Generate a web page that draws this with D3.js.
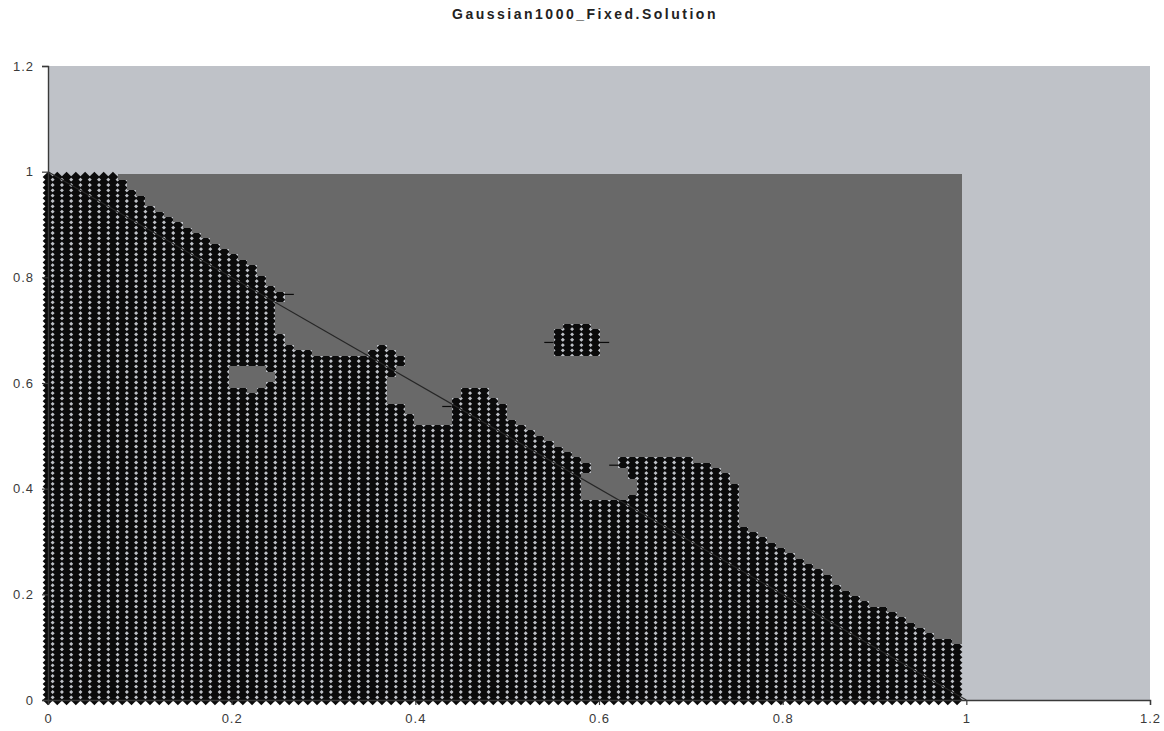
<!DOCTYPE HTML>
<html lang="en">
	<head>
		<title>Gaussian1000_Fixed.Solution</title>
		<style type="text/css">
			body {
				margin: 0;
				background-color: rgb(255, 255, 255);
			}
			text {
				font-family: "Liberation Sans", Arial, sans-serif;
			}
		</style>
		<script src="https://d3js.org/d3.v7.min.js"></script>
	</head>
	<body>
		<div id="display"></div>
		<script>

			// sample grid: 99 x 99 points, step 1/99 on both axes
			var gridCount = 99;
			var xTicks = [0, 0.2, 0.4, 0.6, 0.8, 1, 1.2];
			var yTicks = [0, 0.2, 0.4, 0.6, 0.8, 1, 1.2];

			// highest row (index) of the black class, per column, counted from y = 0
			var colTop = [
				98, 98, 98, 98, 98, 98, 98, 98, 97, 95,
				94, 92, 91, 90, 89, 88, 87, 86, 85, 84,
				83, 82, 81, 79, 77, 68, 66, 65, 65, 64,
				64, 64, 64, 64, 64, 65, 66, 55, 55, 53,
				51, 51, 51, 51, 56, 58, 58, 58, 56, 55,
				52, 51, 50, 49, 48, 47, 46, 45, 37, 37,
				37, 37, 37, 38, 45, 45, 45, 45, 45, 45,
				44, 44, 43, 42, 40, 32, 31, 30, 29, 28,
				27, 26, 25, 24, 23, 21, 20, 19, 18, 17,
				17, 16, 15, 14, 13, 12, 11, 11, 10
			];

			// black cells above a gray gap: [column, fromRow, toRow]
			var extraBlack = [
				[25, 75, 76], [37, 61, 65], [38, 63, 64],
				[58, 43, 44], [62, 44, 45], [63, 42, 45],
				[55, 65, 69], [56, 65, 70], [57, 65, 70], [58, 65, 70], [59, 65, 69]
			];

			// gray cells inside the black area: [column, fromRow, toRow]
			var grayHoles = [
				[20, 59, 62], [21, 59, 62], [22, 58, 62], [23, 59, 62], [24, 60, 61]
			];

			// dash markers: [column, row]
			var stubs = [[26, 76], [43, 55], [61, 44], [54, 67], [60, 67]];

			// reference line
			var lineStart = [0, 1];
			var lineEnd = [1, 0];

			/////////////////////////////////////////////////////////////////////////////////////////

			var width = 1164, height = 731;
			var x = d3.scaleLinear().domain([0, 1.2]).range([48, 1150]);
			var y = d3.scaleLinear().domain([0, 1.2]).range([700, 66]);
			var step = 1 / gridCount;

			function buildCells()
			{
				var cells = [];
				var cls = [];
				for (var i = 0; i < gridCount; i++)
				{
					cls[i] = [];
					for (var j = 0; j < gridCount; j++)
						cls[i][j] = j <= colTop[i] ? 1 : 0;
				}
				extraBlack.forEach(function(e) {
					for (var j = e[1]; j <= e[2]; j++) cls[e[0]][j] = 1;
				});
				grayHoles.forEach(function(h) {
					for (var j = h[1]; j <= h[2]; j++) cls[h[0]][j] = 0;
				});
				for (var i = 0; i < gridCount; i++)
					for (var j = 0; j < gridCount; j++)
						cells.push({i: i, j: j, xv: i * step, yv: j * step, c: cls[i][j]});
				return cells;
			}

			function drawChart()
			{
				var svg = d3.select("#display").append("svg")
					.attr("width", width)
					.attr("height", height);

				svg.append("text")
					.attr("x", 585)
					.attr("y", 19)
					.attr("text-anchor", "middle")
					.style("font-size", "14px")
					.style("font-weight", "bold")
					.style("letter-spacing", "2.5px")
					.style("fill", "#222")
					.text("Gaussian1000_Fixed.Solution");

				// plot area
				svg.append("rect")
					.attr("x", x(0))
					.attr("y", y(1.2))
					.attr("width", x(1.2) - x(0))
					.attr("height", y(0) - y(1.2))
					.style("fill", "#bfc2c8");

				var cells = buildCells();
				var s = 5.3;

				svg.append("g").selectAll("path")
					.data(cells.filter(function(d) { return d.c == 1; }))
					.enter().append("path")
					.attr("d", function(d) {
						var cx = x(d.xv), cy = y(d.yv);
						return "M" + cx + "," + (cy - s) + "L" + (cx + s) + "," + cy +
							"L" + cx + "," + (cy + s) + "L" + (cx - s) + "," + cy + "Z";
					})
					.style("fill", "#0b0b0b");

				svg.append("g").selectAll("rect")
					.data(cells.filter(function(d) { return d.c == 0; }))
					.enter().append("rect")
					.attr("x", function(d) { return Math.round(x(d.xv - step / 2)); })
					.attr("y", function(d) { return Math.round(y(d.yv + step / 2)); })
					.attr("width", function(d) { return Math.round(x(d.xv + step / 2)) - Math.round(x(d.xv - step / 2)); })
					.attr("height", function(d) { return Math.round(y(d.yv - step / 2)) - Math.round(y(d.yv + step / 2)); })
					.style("fill", "#696969")
					.attr("shape-rendering", "crispEdges");

				svg.append("g").selectAll("line")
					.data(stubs)
					.enter().append("line")
					.attr("x1", function(d) { return x((d[0] - 0.5) * step); })
					.attr("x2", function(d) { return x((d[0] + 0.5) * step); })
					.attr("y1", function(d) { return y(d[1] * step); })
					.attr("y2", function(d) { return y(d[1] * step); })
					.style("stroke", "#0b0b0b")
					.style("stroke-width", 1.2);

				svg.append("line")
					.attr("x1", x(lineStart[0])).attr("y1", y(lineStart[1]))
					.attr("x2", x(lineEnd[0])).attr("y2", y(lineEnd[1]))
					.style("stroke", "#262626")
					.style("stroke-width", 1.2);

				// axes
				var xAxis = d3.axisBottom(x).tickValues(xTicks).tickSize(5).tickPadding(9)
					.tickFormat(function(d) { return d3.format("")(+d.toFixed(1)); });
				var yAxis = d3.axisLeft(y).tickValues(yTicks).tickSize(6).tickPadding(8)
					.tickFormat(function(d) { return d3.format("")(+d.toFixed(1)); });

				var gx = svg.append("g").attr("transform", "translate(0," + y(0) + ")").call(xAxis);
				var gy = svg.append("g").attr("transform", "translate(" + x(0) + ",0)").call(yAxis);

				[gx, gy].forEach(function(g) {
					g.select(".domain").style("stroke", "#3a3a3a").style("stroke-width", 1.4);
					g.selectAll(".tick line").style("stroke", "#3a3a3a").style("stroke-width", 1.2);
					g.selectAll(".tick text")
						.style("font-size", "13px")
						.style("letter-spacing", "1px")
						.style("fill", "#3a3a3a")
						.style("font-family", "'Liberation Sans', Arial, sans-serif");
				});
			}

			drawChart();

		</script>
	</body>
</html>
